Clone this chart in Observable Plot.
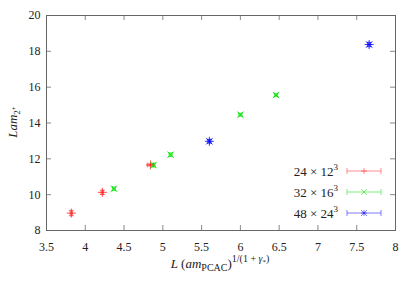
<!DOCTYPE html>
<html><head><meta charset="utf-8">
<script src="https://cdn.jsdelivr.net/npm/d3@7"></script>
<script src="https://cdn.jsdelivr.net/npm/@observablehq/plot@0.6"></script>
<style>body{margin:0;background:#fff}</style>
</head><body><div id="chart"></div>
<script>
const xTicks = [3.5, 4, 4.5, 5, 5.5, 6, 6.5, 7, 7.5, 8];
const yTicks = [8, 10, 12, 14, 16, 18, 20];

const redX = [3.82, 4.22, 4.84];
const redY = [8.97, 10.13, 11.66];
const redXErr = [0.015, 0.015, 0.04];
const redYErr = [0.15, 0.12, 0.06];

const greenX = [4.37, 4.88, 5.10, 6.00, 6.46];
const greenY = [10.33, 11.65, 12.23, 14.46, 15.56];
const greenXErr = [0.02, 0.02, 0.02, 0.02, 0.02];
const greenYErr = [0.1, 0.1, 0.1, 0.08, 0.08];

const blueX = [5.60, 7.66];
const blueY = [12.98, 18.38];
const blueXErr = [0.02, 0.02];
const blueYErr = [0.1, 0.12];

const seriesNames = ["24 × 12", "32 × 16", "48 × 24"];
const seriesColors = ["#ff2020", "#00e000", "#0000ff"];

const mk = (xs, ys, xe, ye) => xs.map((x, i) => ({x, y: ys[i], xe: xe[i], ye: ye[i]}));
const red = mk(redX, redY, redXErr, redYErr);
const green = mk(greenX, greenY, greenXErr, greenYErr);
const blue = mk(blueX, blueY, blueXErr, blueYErr);

const hcap = {draw(ctx, size) { const r = Math.sqrt(size / Math.PI); ctx.moveTo(-r, 0); ctx.lineTo(r, 0); }};
const vcap = {draw(ctx, size) { const r = Math.sqrt(size / Math.PI); ctx.moveTo(0, -r); ctx.lineTo(0, r); }};

function errMarks(data, color) {
  const o = {stroke: color, strokeWidth: 0.8, strokeOpacity: 0.8};
  return [
    Plot.link(data, {x1: d => d.x - d.xe, x2: d => d.x + d.xe, y1: "y", y2: "y", ...o}),
    Plot.link(data, {x1: "x", x2: "x", y1: d => d.y - d.ye, y2: d => d.y + d.ye, ...o}),
    Plot.dot(data, {x: d => d.x - d.xe, y: "y", symbol: vcap, r: 2.5, ...o}),
    Plot.dot(data, {x: d => d.x + d.xe, y: "y", symbol: vcap, r: 2.5, ...o}),
    Plot.dot(data, {x: "x", y: d => d.y - d.ye, symbol: hcap, r: 2.5, ...o}),
    Plot.dot(data, {x: "x", y: d => d.y + d.ye, symbol: hcap, r: 2.5, ...o})
  ];
}

const W = 415, H = 291, mL = 46, mR = 20, mT = 15, mB = 61;
const ph = H - mT - mB, pw = W - mL - mR;
const FONT = "Liberation Serif";

const svg = Plot.plot({
  width: W, height: H,
  marginLeft: mL, marginRight: mR, marginTop: mT, marginBottom: mB,
  x: {domain: [3.5, 8]},
  y: {domain: [8, 20]},
  marks: [
    Plot.tickX(xTicks, {x: d => d, insetTop: ph - 5, stroke: "#888"}),
    Plot.tickX(xTicks, {x: d => d, insetBottom: ph - 5, stroke: "#888"}),
    Plot.tickY(yTicks, {y: d => d, insetRight: pw - 5, stroke: "#888"}),
    Plot.tickY(yTicks, {y: d => d, insetLeft: pw - 5, stroke: "#888"}),
    Plot.frame({stroke: "#666"}),
    Plot.axisX(xTicks, {tickSize: 0, tickPadding: 12, tickFormat: d => String(d), label: null, fill: "#222", fontSize: 12}),
    Plot.axisY(yTicks, {tickSize: 0, tickPadding: 6, tickFormat: d => String(d), label: null, fill: "#222", fontSize: 12}),
    ...errMarks(red, seriesColors[0]),
    ...errMarks(green, seriesColors[1]),
    ...errMarks(blue, seriesColors[2]),
    Plot.dot(red, {x: "x", y: "y", symbol: "plus", r: 3, stroke: seriesColors[0], strokeWidth: 0.8}),
    Plot.dot(green, {x: "x", y: "y", symbol: "times", r: 3, stroke: seriesColors[1], strokeWidth: 0.8}),
    Plot.dot(blue, {x: "x", y: "y", symbol: "plus", r: 3, stroke: seriesColors[2], strokeWidth: 0.8}),
    Plot.dot(blue, {x: "x", y: "y", symbol: "times", r: 3, stroke: seriesColors[2], strokeWidth: 0.8})
  ]
});

const s = d3.select(svg);
// x label
const xl = s.append("text").attr("x", 220).attr("y", 268).attr("text-anchor", "middle")
  .attr("font-size", 13).attr("fill", "#222");
xl.append("tspan").attr("font-style", "italic").text("L");
xl.append("tspan").text(" (");
xl.append("tspan").attr("font-style", "italic").text("am");
xl.append("tspan").attr("font-size", 10).attr("dy", 3).text("PCAC");
xl.append("tspan").attr("dy", -3).text(")");
xl.append("tspan").attr("font-size", 10).attr("dy", -6).text("1/(1 + ");
xl.append("tspan").attr("font-size", 10).attr("font-style", "italic").text("γ");
xl.append("tspan").attr("font-size", 7).attr("dy", 2).text("*");
xl.append("tspan").attr("font-size", 10).attr("dy", -2).text(")");

// y label
const yl = s.append("text").attr("transform", "translate(17,122) rotate(-90)")
  .attr("text-anchor", "middle").attr("font-size", 13).attr("fill", "#222");
yl.append("tspan").attr("font-style", "italic").text("Lam");
yl.append("tspan").attr("font-size", 9).attr("dy", 3).text("2");
yl.append("tspan").attr("font-size", 7).attr("dy", -4).text("+");

// legend
const legRows = [171, 192, 213];
const legSyms = [["plus"], ["times"], ["plus", "times"]];
const supers = ["3", "3", "3"];
legRows.forEach((yy, i) => {
  const c = seriesColors[i];
  const t = s.append("text").attr("x", 338).attr("y", yy + 5).attr("text-anchor", "end")
    .attr("font-size", 13).attr("fill", "#222");
  t.append("tspan").text(seriesNames[i]);
  t.append("tspan").attr("font-size", 9).attr("dy", -6).text(supers[i]);
  const g = s.append("g").attr("stroke", c).attr("stroke-opacity", 0.5).attr("stroke-width", 1);
  g.append("line").attr("x1", 347).attr("x2", 381).attr("y1", yy).attr("y2", yy);
  g.append("line").attr("x1", 347).attr("x2", 347).attr("y1", yy - 3).attr("y2", yy + 3);
  g.append("line").attr("x1", 381).attr("x2", 381).attr("y1", yy - 3).attr("y2", yy + 3);
  legSyms[i].forEach(sym => {
    if (sym === "plus") {
      g.append("line").attr("x1", 364).attr("x2", 364).attr("y1", yy - 3).attr("y2", yy + 3);
      g.append("line").attr("x1", 361).attr("x2", 367).attr("y1", yy).attr("y2", yy);
    } else {
      g.append("line").attr("x1", 361).attr("x2", 367).attr("y1", yy - 3).attr("y2", yy + 3);
      g.append("line").attr("x1", 361).attr("x2", 367).attr("y1", yy + 3).attr("y2", yy - 3);
    }
  });
});

svg.querySelectorAll("style").forEach(e => e.remove());
svg.removeAttribute("class");
s.attr("font-family", FONT).attr("font-size", 12).style("background", "#fff").style("display", "block");
s.selectAll("text, tspan, g").attr("font-family", FONT);

document.getElementById("chart").appendChild(svg);
</script>
</body></html>
